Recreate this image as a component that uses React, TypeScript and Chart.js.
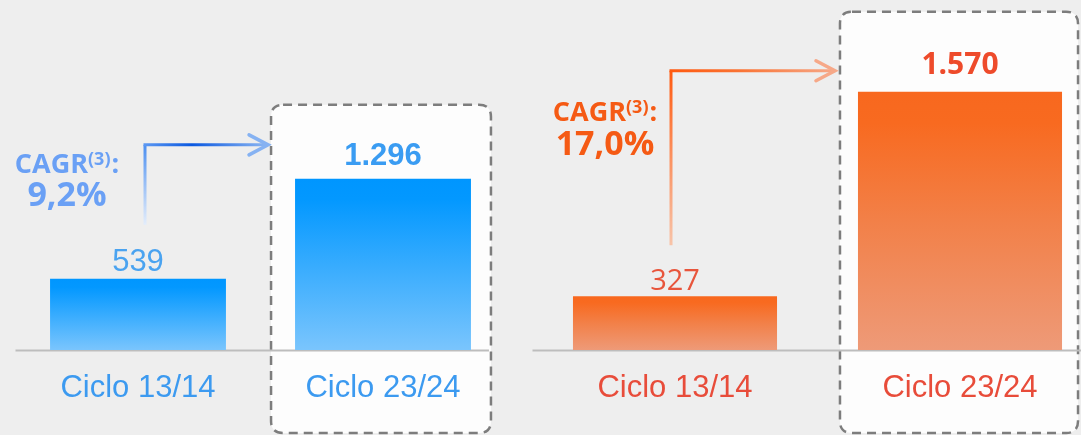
import React, { useEffect, useRef } from "react";
import { Chart, registerables } from "chart.js";

Chart.register(...registerables);

// ---------- data ----------
const categories = ["Ciclo 13/14", "Ciclo 23/24"];
const leftValues = [539, 1296];
const rightValues = [327, 1570];
const leftValueLabels = ["539", "1.296"];
const rightValueLabels = ["327", "1.570"];
const cagrTitle = "CAGR";
const cagrNote = "(3)";
const leftCagr = "9,2%";
const rightCagr = "17,0%";
const leftMax = 2650;
const rightMax = 2128;

const SANS = '"Liberation Sans", Arial, sans-serif';
const SEGOE = '"Open Sans", "Noto Sans", sans-serif';

type Panel = {
  values: number[];
  valueLabels: string[];
  yMax: number;
  cagr: string;
  barStops: [number, string][];
  catColor: string;
  valColors: string[];
  valFonts: string[];
  valGaps: number[];
  cagrColor: string;
  cagrX: number;
  cagrY1: number;
  cagrY2: number;
  pad: { left: number; right: number };
  barPct: number;
  box: { l: number; r: number; t: number };
  arrow: { dx: number; bottomOff: number; cornerOff: number; tipOff: number };
  hStops: [number, string][];
  vStops: [number, string][];
  headColor: string;
  axisEndToBox: boolean;
};

const leftPanel: Panel = {
  values: leftValues,
  valueLabels: leftValueLabels,
  yMax: leftMax,
  cagr: leftCagr,
  barStops: [
    [0, "#0096ff"],
    [0.12, "#0398ff"],
    [1, "#7ac5fd"],
  ],
  catColor: "#3c9af0",
  valColors: ["#4aa3f0", "#3a9cf2"],
  valFonts: [`400 31px ${SANS}`, `700 31px ${SANS}`],
  valGaps: [8, 14],
  cagrColor: "#6aa0f5",
  cagrX: 67,
  cagrY1: 173,
  cagrY2: 206,
  pad: { left: 15.5, right: 24.5 },
  barPct: 0.718,
  box: { l: 24, r: 20, t: 74 },
  arrow: { dx: 7, bottomOff: 54, cornerOff: 34, tipOff: 3 },
  hStops: [
    [0, "#5b97f2"],
    [0.38, "#0a58e0"],
    [1, "#8fb8f2"],
  ],
  vStops: [
    [0, "rgba(225,236,252,0.9)"],
    [1, "#4a8ef0"],
  ],
  headColor: "#86b2f2",
  axisEndToBox: true,
};

const rightPanel: Panel = {
  values: rightValues,
  valueLabels: rightValueLabels,
  yMax: rightMax,
  cagr: rightCagr,
  barStops: [
    [0, "#f8681e"],
    [0.12, "#f86a20"],
    [0.5, "#f28048"],
    [1, "#ee9a78"],
  ],
  catColor: "#e84c3a",
  valColors: ["#e8553c", "#ee4b2b"],
  valFonts: [`400 29px ${SEGOE}`, `700 30px ${SEGOE}`],
  valGaps: [6, 18],
  cagrColor: "#f55a14",
  cagrX: 75,
  cagrY1: 121,
  cagrY2: 155,
  pad: { left: 2.5, right: 7.5 },
  barPct: 0.716,
  box: { l: 18, r: 16, t: 80 },
  arrow: { dx: -4, bottomOff: 51, cornerOff: 21, tipOff: 5 },
  hStops: [
    [0, "#ff5a10"],
    [0.4, "#fa7232"],
    [1, "#f6a888"],
  ],
  vStops: [
    [0, "rgba(248,190,160,0.9)"],
    [1, "#ff5a10"],
  ],
  headColor: "#f6a888",
  axisEndToBox: false,
};

function roundRectPath(ctx: CanvasRenderingContext2D, x: number, y: number, w: number, h: number, r: number) {
  ctx.beginPath();
  ctx.moveTo(x + r, y);
  ctx.lineTo(x + w - r, y);
  ctx.quadraticCurveTo(x + w, y, x + w, y + r);
  ctx.lineTo(x + w, y + h - r);
  ctx.quadraticCurveTo(x + w, y + h, x + w - r, y + h);
  ctx.lineTo(x + r, y + h);
  ctx.quadraticCurveTo(x, y + h, x, y + h - r);
  ctx.lineTo(x, y + r);
  ctx.quadraticCurveTo(x, y, x + r, y);
  ctx.closePath();
}

function makePlugin(p: Panel) {
  const boxOf = (chart: any) => {
    const b = chart.getDatasetMeta(0).data[1] as any;
    const left = b.x - b.width / 2 - p.box.l;
    const right = b.x + b.width / 2 + p.box.r;
    const top = b.y - p.box.t;
    const bottom = chart.height - 2;
    return { left, right, top, bottom };
  };
  return {
    id: "panelDecor",
    beforeDraw(chart: any) {
      const ctx: CanvasRenderingContext2D = chart.ctx;
      const bx = boxOf(chart);
      ctx.save();
      roundRectPath(ctx, bx.left, bx.top, bx.right - bx.left, bx.bottom - bx.top, 12);
      ctx.fillStyle = "#fdfdfd";
      ctx.fill();
      ctx.setLineDash([9, 6]);
      ctx.lineWidth = 2.5;
      ctx.strokeStyle = "#7d7d7d";
      ctx.stroke();
      ctx.restore();
      // axis baseline
      const y = chart.scales.y.getPixelForValue(0);
      const x0 = chart.chartArea.left;
      const x1 = p.axisEndToBox ? bx.right - 2 : chart.width;
      ctx.save();
      ctx.strokeStyle = "#bdbdbd";
      ctx.lineWidth = 2;
      ctx.beginPath();
      ctx.moveTo(x0, y + 0.5);
      ctx.lineTo(x1, y + 0.5);
      ctx.stroke();
      ctx.restore();
    },
    afterDatasetsDraw(chart: any) {
      const ctx: CanvasRenderingContext2D = chart.ctx;
      const meta = chart.getDatasetMeta(0);
      ctx.save();
      // value labels
      ctx.textAlign = "center";
      ctx.textBaseline = "alphabetic";
      meta.data.forEach((el: any, i: number) => {
        ctx.font = p.valFonts[i];
        ctx.fillStyle = p.valColors[i];
        ctx.fillText(p.valueLabels[i], el.x, el.y - p.valGaps[i]);
      });
      // CAGR text
      ctx.fillStyle = p.cagrColor;
      const bigF = `700 27px ${SEGOE}`;
      const supF = `700 18px ${SEGOE}`;
      ctx.font = bigF;
      const w1 = ctx.measureText(cagrTitle).width;
      const w3 = ctx.measureText(":").width;
      ctx.font = supF;
      const w2 = ctx.measureText(cagrNote).width;
      const total = w1 + w2 + 1 + w3;
      let x = p.cagrX - total / 2;
      ctx.textAlign = "left";
      ctx.font = bigF;
      ctx.fillText(cagrTitle, x, p.cagrY1);
      x += w1;
      ctx.font = supF;
      ctx.fillText(cagrNote, x, p.cagrY1 - 8);
      x += w2 + 1;
      ctx.font = bigF;
      ctx.fillText(":", x, p.cagrY1);
      ctx.textAlign = "center";
      ctx.font = `700 34px ${SEGOE}`;
      ctx.fillText(p.cagr, p.cagrX, p.cagrY2);

      // arrow
      const b0 = meta.data[0] as any;
      const b1 = meta.data[1] as any;
      const bx = boxOf(chart);
      const ax = b0.x + p.arrow.dx;
      const ay0 = b0.y - p.arrow.bottomOff;
      const ay1 = b1.y - p.arrow.cornerOff;
      const tip = bx.left - p.arrow.tipOff;
      ctx.lineWidth = 3;
      const vg = ctx.createLinearGradient(0, ay0, 0, ay1);
      p.vStops.forEach(([o, c]) => vg.addColorStop(o, c));
      ctx.strokeStyle = vg;
      ctx.beginPath();
      ctx.moveTo(ax, ay0);
      ctx.lineTo(ax, ay1);
      ctx.stroke();
      const hg = ctx.createLinearGradient(ax, 0, tip, 0);
      p.hStops.forEach(([o, c]) => hg.addColorStop(o, c));
      ctx.strokeStyle = hg;
      ctx.beginPath();
      ctx.moveTo(ax - 1.5, ay1);
      ctx.lineTo(tip - 1, ay1);
      ctx.stroke();
      ctx.strokeStyle = p.headColor;
      ctx.lineWidth = 3.5;
      ctx.lineJoin = "miter";
      ctx.lineCap = "round";
      ctx.beginPath();
      ctx.moveTo(tip - 19, ay1 - 10);
      ctx.lineTo(tip, ay1);
      ctx.lineTo(tip - 19, ay1 + 10);
      ctx.stroke();
      ctx.restore();
    },
  };
}

function PanelChart({ p, left, width }: { p: Panel; left: number; width: number }) {
  const ref = useRef<HTMLCanvasElement | null>(null);
  useEffect(() => {
    if (!ref.current) return;
    const chart = new Chart(ref.current, {
      type: "bar",
      data: {
        labels: categories,
        datasets: [
          {
            data: p.values,
            backgroundColor: (c: any) => {
              const chart = c.chart;
              const fallback = p.barStops[0][1];
              if (c.type !== "data" || !chart.chartArea || !chart.scales?.y) return fallback;
              const v = c.parsed ? c.parsed.y : c.raw;
              const yTop = chart.scales.y.getPixelForValue(v);
              const yBase = chart.scales.y.getPixelForValue(0);
              if (!isFinite(yTop) || !isFinite(yBase)) return fallback;
              const g = chart.ctx.createLinearGradient(0, yTop, 0, yBase);
              p.barStops.forEach(([o, col]) => g.addColorStop(o, col));
              return g;
            },
            borderWidth: 0,
            barPercentage: p.barPct,
            categoryPercentage: 1,
          },
        ],
      },
      options: {
        responsive: true,
        maintainAspectRatio: false,
        animation: false,
        layout: { padding: { left: p.pad.left, right: p.pad.right, top: 0, bottom: 0 } },
        plugins: { legend: { display: false }, tooltip: { enabled: false } },
        scales: {
          x: {
            grid: { display: false, drawTicks: false },
            border: { display: false },
            ticks: {
              color: p.catColor,
              font: { family: SANS, size: 31 },
              padding: 20,
              maxRotation: 0,
              autoSkip: false,
            },
            afterFit: (s: any) => {
              s.height = 85;
            },
          },
          y: { display: false, min: 0, max: p.yMax },
        },
      },
      plugins: [makePlugin(p) as any],
    });
    return () => chart.destroy();
  }, []);
  return (
    <div style={{ position: "absolute", left, top: 0, width, height: 435 }}>
      <canvas ref={ref} />
    </div>
  );
}

export default function App() {
  return (
    <div
      style={{
        position: "absolute",
        left: 0,
        top: 0,
        width: 1081,
        height: 435,
        overflow: "hidden",
        background: "#eeeeee",
      }}
    >
      <PanelChart p={leftPanel} left={0} width={530} />
      <PanelChart p={rightPanel} left={530} width={580} />
    </div>
  );
}
